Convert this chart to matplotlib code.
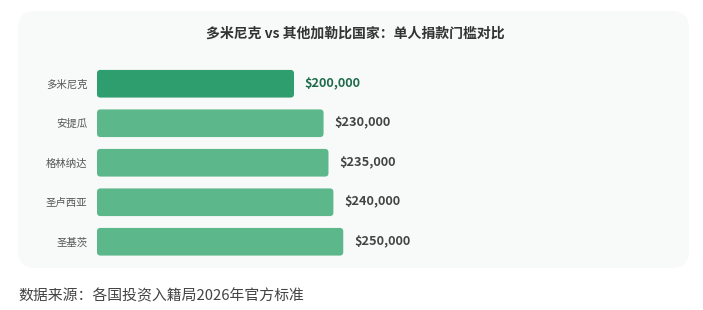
import matplotlib
matplotlib.use("Agg")
import matplotlib.pyplot as plt
from matplotlib.patches import FancyBboxPatch

plt.rcParams['font.family'] = ['Noto Sans CJK SC', 'DejaVu Sans']

countries = ["多米尼克", "安提瓜", "格林纳达", "圣卢西亚", "圣基茨"]
values = [200000, 230000, 235000, 240000, 250000]
value_labels = ["$200,000", "$230,000", "$235,000", "$240,000", "$250,000"]
title = "多米尼克 vs 其他加勒比国家：单人捐款门槛对比"
footer = "数据来源：各国投资入籍局2026年官方标准"

W, H = 703, 310
fig = plt.figure(figsize=(W / 100, H / 100), dpi=100)
fig.patch.set_facecolor("white")

# panel background
panel = FancyBboxPatch((18 / W, 1 - 268 / H), (689 - 18) / W, (268 - 11) / H,
                       boxstyle="round,pad=0,rounding_size=0.025",
                       transform=fig.transFigure, facecolor="#f8f9f9",
                       edgecolor="none", mutation_aspect=W / H, zorder=-5)
fig.patches.append(panel)

ax_left, ax_right = 97, 687
ax_top, ax_bot = 64.0, 261.5
ax = fig.add_axes([ax_left / W, 1 - ax_bot / H, (ax_right - ax_left) / W, (ax_bot - ax_top) / H])
ax.set_facecolor("none")
ax.set_zorder(2)
x_per_px = 1000.0 / 0.985
ax.set_xlim(0, (ax_right - ax_left) * x_per_px)
ax.set_ylim(len(countries) - 0.5, -0.5)

colors = ["#2e9e6f"] + ["#5cb88a"] * (len(countries) - 1)
txt_colors = ["#1d6b4a"] + ["#444444"] * (len(countries) - 1)
bh = 0.70
bars = ax.barh(range(len(countries)), values, height=bh, color="none")
# convert bars to rounded patches
y_per_px = 1 / 39.5
for b, c in zip(bars, colors):
    b.set_visible(False)
    r = 3.5  # px
    p = FancyBboxPatch((b.get_x(), b.get_y()), b.get_width(), b.get_height(),
                       boxstyle=f"round,pad=0,rounding_size={r * x_per_px}",
                       mutation_aspect=y_per_px / x_per_px,
                       facecolor=c, edgecolor="none")
    ax.add_patch(p)

for i, (v, lab, tc) in enumerate(zip(values, value_labels, txt_colors)):
    ax.annotate(lab, (v, i), xytext=(7.8, 0), textcoords="offset points",
                va="center", ha="left", fontsize=9.2, fontweight="bold", color=tc)

ax.set_yticks(range(len(countries)))
ax.set_yticklabels(countries, fontsize=7.5, color="#555555")
ax.tick_params(axis="y", length=0, pad=7)
ax.set_xticks([])
for s in ax.spines.values():
    s.set_visible(False)

fig.text(355 / W, 1 - 34 / H, title, ha="center", va="center",
         fontsize=10, fontweight="bold", color="#333333")
fig.text(18 / W, 1 - 296 / H, footer, ha="left", va="center",
         fontsize=10.7, color="#444444")

fig.savefig("out.png", dpi=100, facecolor="white")
